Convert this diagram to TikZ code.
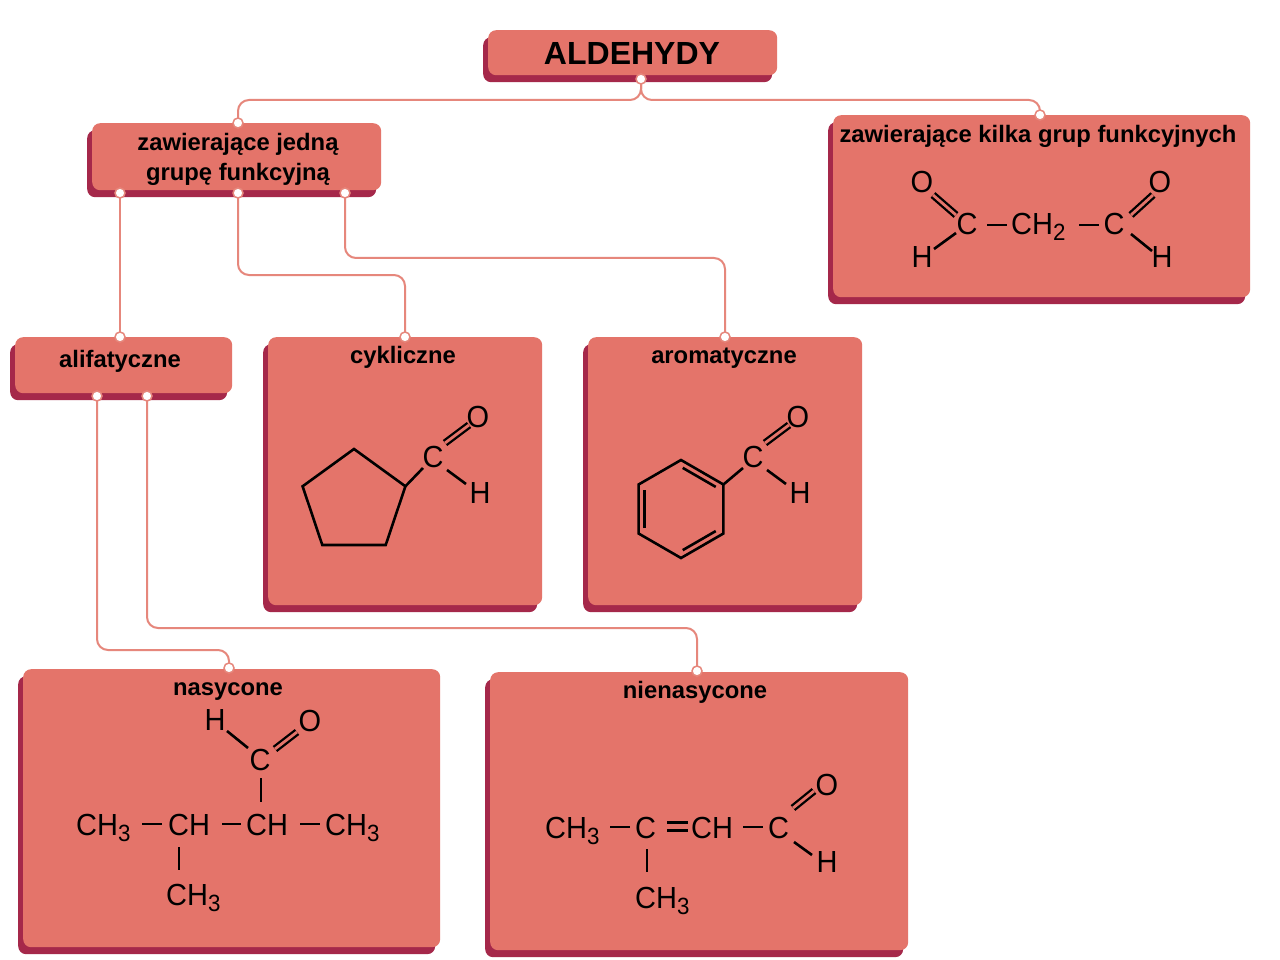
\documentclass[tikz,border=0pt]{standalone}
\usepackage{fontspec}
\setmainfont{Liberation Sans}
\newfontfamily\chemfont[FakeStretch=0.95]{Liberation Sans}
\usetikzlibrary{shadows,calc}
\definecolor{face}{HTML}{E4746A}
\definecolor{shade}{HTML}{A5284A}
\definecolor{conncol}{HTML}{E6877C}
\newcommand\chsub[1]{\raisebox{-6pt}{\fontsize{23.5}{24}\selectfont #1}}
\begin{document}
\begin{tikzpicture}[x=1pt,y=-1pt,
 box/.style={rectangle, rounded corners=8pt, fill=face, inner sep=0pt, anchor=north west,
   drop shadow={shadow xshift=-5pt, shadow yshift=-7pt, opacity=1, fill=shade}},
 lbl/.style={font=\fontsize{23.8}{28}\selectfont\bfseries, inner sep=0pt, anchor=base},
 atom/.style={font=\chemfont\fontsize{30.5}{34}\selectfont, inner sep=0pt, anchor=base},
 grp/.style={font=\chemfont\fontsize{30.5}{34}\selectfont, inner sep=0pt, anchor=base west},
 bond/.style={line width=2.6pt, black},
 dbond/.style={line width=2.3pt, black, double=face, double distance=2.8pt},
 conn/.style={draw=conncol, line width=2pt, rounded corners=11pt},
 port/.style={circle, fill=white, draw=conncol, line width=1.5pt, minimum size=10pt, inner sep=0pt}]
\useasboundingbox[fill=white] (0,0) rectangle (1280,960);

% port coordinates
\coordinate (c0) at (641,79);
\coordinate (cZt) at (238,123);
\coordinate (cKt) at (1040,115);
\coordinate (cZa) at (120,193);
\coordinate (cZb) at (238,193);
\coordinate (cZc) at (345,193);
\coordinate (cAt) at (120,337);
\coordinate (cCt) at (405,337);
\coordinate (cRt) at (725,337);
\coordinate (cAa) at (97,396);
\coordinate (cAb) at (147,396);
\coordinate (cNt) at (229,668);
\coordinate (cMt) at (697,671);

% connectors
\draw[conn] (c0) -- (c0 |- 0,100) -- (cZt |- 0,100) -- (cZt);
\draw[conn] (c0) -- (c0 |- 0,100) -- (cKt |- 0,100) -- (cKt);
\draw[conn] (cZa) -- (cAt);
\draw[conn] (cZb) -- (cZb |- 0,275) -- (cCt |- 0,275) -- (cCt);
\draw[conn] (cZc) -- (cZc |- 0,258) -- (cRt |- 0,258) -- (cRt);
\draw[conn] (cAa) -- (cAa |- 0,650) -- (cNt |- 0,650) -- (cNt);
\draw[conn] (cAb) -- (cAb |- 0,628) -- (cMt |- 0,628) -- (cMt);

% boxes
\node[box, minimum width=289pt, minimum height=45pt] (ald) at (488,30) {};
\node[box, minimum width=289pt, minimum height=67pt] (one) at (92,123) {};
\node[box, minimum width=417pt, minimum height=182pt] (many) at (833,115) {};
\node[box, minimum width=217pt, minimum height=56pt] (ali) at (15,337) {};
\node[box, minimum width=274pt, minimum height=268pt] (cyk) at (268,337) {};
\node[box, minimum width=274pt, minimum height=268pt] (aro) at (588,337) {};
\node[box, minimum width=417pt, minimum height=278pt] (nas) at (23,669) {};
\node[box, minimum width=418pt, minimum height=278pt] (nien) at (490,672) {};

% ports
\foreach \c in {c0,cZt,cKt,cZa,cZb,cZc,cAt,cCt,cRt,cAa,cAb,cNt,cMt}
  \node[port] (p\c) at (\c) {};

% labels
\node[lbl] (tAld) at (632,65) {\fontsize{32}{36}\selectfont ALDEHYDY};
\node[lbl] (tZ1) at (238,151) {zawierające jedną};
\node[lbl] (tZ2) at (238,181) {grupę funkcyjną};
\node[lbl] (tK) at (1038,143) {zawierające kilka grup funkcyjnych};
\node[lbl] (tAli) at (120,367) {alifatyczne};
\node[lbl] (tCyk) at (403,363) {cykliczne};
\node[lbl] (tAro) at (724,363) {aromatyczne};
\node[lbl] (tNas) at (228,695) {nasycone};
\node[lbl] (tNien) at (695,698) {nienasycone};

% --- malonaldehyde
\node[atom] (kO1) at (922,193) {O};
\node[atom] (kH1) at (922,267) {H};
\node[atom] (kC1) at (967,235) {C};
\draw[bond] (987,225) -- (1007,225);
\node[grp] (kCH2) at (1011,235) {CH\chsub{2}};
\draw[bond] (1079,225) -- (1099,225);
\node[atom] (kC2) at (1114,235) {C};
\node[atom] (kO2) at (1160,193) {O};
\node[atom] (kH2) at (1162,267) {H};
\draw[dbond] (933,195) -- (956,215);
\draw[bond] (934,249) -- (956,233);
\draw[dbond] (1131,215) -- (1153,195);
\draw[bond] (1131,234) -- (1152,251);

% --- cyclopentanecarbaldehyde
\draw[bond, line join=miter] (354,449) -- (405.4,486.3) -- (385.7,545) -- (322.3,545) -- (302.6,486.3) -- cycle;
\draw[bond] (405.4,486.3) -- (423,468);
\node[atom] (cC) at (433,467) {C};
\node[atom] (cO) at (478,427) {O};
\node[atom] (cH) at (480,503) {H};
\draw[dbond] (445,443) -- (469,425);
\draw[bond] (447,470) -- (466,484);

% --- benzaldehyde
\coordinate (bc) at (681,509);
\coordinate (b1) at (681,460);
\coordinate (b2) at (723.4,484.5);
\coordinate (b3) at (723.4,533.5);
\coordinate (b4) at (681,558);
\coordinate (b5) at (638.6,533.5);
\coordinate (b6) at (638.6,484.5);
\draw[bond, line join=miter] (b1) -- (b2) -- (b3) -- (b4) -- (b5) -- (b6) -- cycle;
\draw[bond, shorten <=2pt, shorten >=2pt] ($(b1)!0.14!(bc)$) -- ($(b2)!0.14!(bc)$);
\draw[bond, shorten <=2pt, shorten >=2pt] ($(b3)!0.14!(bc)$) -- ($(b4)!0.14!(bc)$);
\draw[bond, shorten <=2pt, shorten >=2pt] ($(b5)!0.14!(bc)$) -- ($(b6)!0.14!(bc)$);
\draw[bond] (b2) -- (743,468);
\node[atom] (aC) at (753,467) {C};
\node[atom] (aO) at (798,427) {O};
\node[atom] (aH) at (800,503) {H};
\draw[dbond] (765,443) -- (789,425);
\draw[bond] (767,470) -- (786,484);

% --- 2,3-dimethylbutanal
\node[atom] (nH) at (215,730) {H};
\node[atom] (nO) at (310,731) {O};
\node[atom] (nC) at (260,770) {C};
\draw[bond] (227,731) -- (248,748);
\draw[dbond] (275,749) -- (297,732);
\draw[bond] (261,778) -- (261,802);
\node[grp] (n1) at (76,835) {CH\chsub{3}};
\draw[bond] (142,824) -- (162,824);
\node[grp] (n2) at (168,835) {CH};
\draw[bond] (222,824) -- (241,824);
\node[grp] (n3) at (246,835) {CH};
\draw[bond] (300,824) -- (320,824);
\node[grp] (n4) at (325,835) {CH\chsub{3}};
\draw[bond] (179,847) -- (179,870);
\node[grp] (n5) at (166,905) {CH\chsub{3}};

% --- 3-methylbut-2-enal
\node[grp] (m1) at (545,838) {CH\chsub{3}};
\draw[bond] (610,827) -- (630,827);
\node[grp] (m2) at (635,838) {C};
\draw[bond] (667,822.5) -- (688,822.5);
\draw[bond] (667,830.5) -- (688,830.5);
\node[grp] (m3) at (691,838) {CH};
\draw[bond] (743,827) -- (763,827);
\node[grp] (m4) at (768,838) {C};
\node[atom] (mO) at (827,795) {O};
\node[atom] (mH) at (827,872) {H};
\draw[dbond] (793,808) -- (814,791);
\draw[bond] (794,842) -- (812,855);
\draw[bond] (647,849) -- (647,872);
\node[grp] (m5) at (635,908) {CH\chsub{3}};
\end{tikzpicture}
\end{document}
